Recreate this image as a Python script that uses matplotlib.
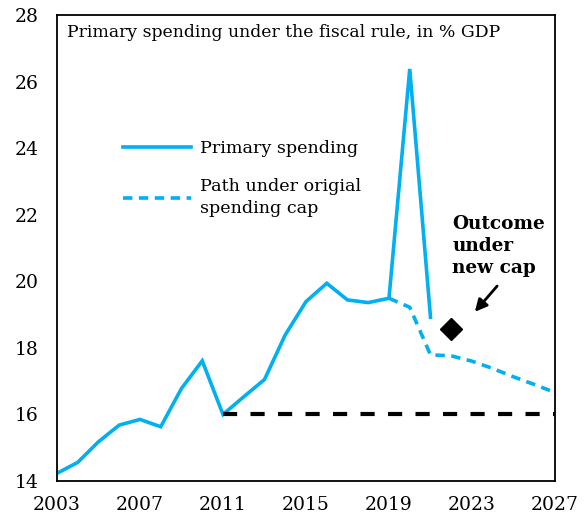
import matplotlib.pyplot as plt

# Primary spending, % of GDP
years = [2003, 2004, 2005, 2006, 2007, 2008, 2009, 2010, 2011, 2012,
         2013, 2014, 2015, 2016, 2017, 2018, 2019, 2020, 2021]
spending = [14.23, 14.56, 15.18, 15.68, 15.85, 15.63, 16.78, 17.61, 16.0, 16.53,
            17.05, 18.39, 19.39, 19.94, 19.44, 19.36, 19.49, 26.38, 18.92]

# Path under the original spending cap
cap_years = [2019, 2020, 2021, 2022, 2023, 2024, 2025, 2026, 2027]
cap_path = [19.49, 19.22, 17.79, 17.76, 17.6, 17.38, 17.13, 16.9, 16.66]

# Floor at the 2011 level
floor_years = [2011, 2027]
floor_vals = [16.0, 16.0]

new_cap_year = 2022
new_cap_val = 18.57

blue = "#00B0F0"
serif = ["DejaVu Serif"]

fig = plt.figure(figsize=(5.85, 5.14), dpi=100)
ax = fig.add_axes([0.0974, 0.0642, 0.8513, 0.9066])

ax.plot(years, spending, color=blue, lw=2.6, solid_joinstyle="miter",
        label="Primary spending")
ax.plot(cap_years, cap_path, color=blue, lw=2.6, dashes=(2.6, 1.8),
        label="Path under origial\nspending cap")
ax.plot(floor_years, floor_vals, color="black", lw=3, dashes=(3.4, 3.2))
ax.plot([new_cap_year], [new_cap_val], marker="D", color="black",
        markersize=11.5, linestyle="none")

ax.annotate("", xy=(2023.05, 19.02), xytext=(2024.3, 19.92),
            arrowprops=dict(arrowstyle="-|>", color="black", lw=2,
                            mutation_scale=18))
ax.text(2022.05, 20.12, "Outcome\nunder\nnew cap", fontsize=13.3,
        fontweight="bold", family=serif, va="bottom", ha="left",
        linespacing=1.3)

ax.text(0.02, 0.9635, "Primary spending under the fiscal rule, in % GDP",
        transform=ax.transAxes, fontsize=12.4, family=serif, va="center")

ax.set_xlim(2003, 2027)
ax.set_ylim(14, 28)
ax.set_xticks(range(2003, 2028, 4))
ax.set_yticks(range(14, 29, 2))
ax.tick_params(length=0, labelsize=13.5)
ax.tick_params(axis="y", pad=13)
ax.tick_params(axis="x", pad=11)
for lab in ax.get_xticklabels() + ax.get_yticklabels():
    lab.set_family(serif)
for s in ax.spines.values():
    s.set_linewidth(1.3)

leg = ax.legend(loc="upper left", bbox_to_anchor=(0.1, 0.765), frameon=False,
                prop={"family": serif, "size": 12.6}, handlelength=3.9,
                handletextpad=0.5, labelspacing=1.2)
for t in leg.get_texts():
    t.set_linespacing(1.4)

fig.savefig("out.png", dpi=100)
